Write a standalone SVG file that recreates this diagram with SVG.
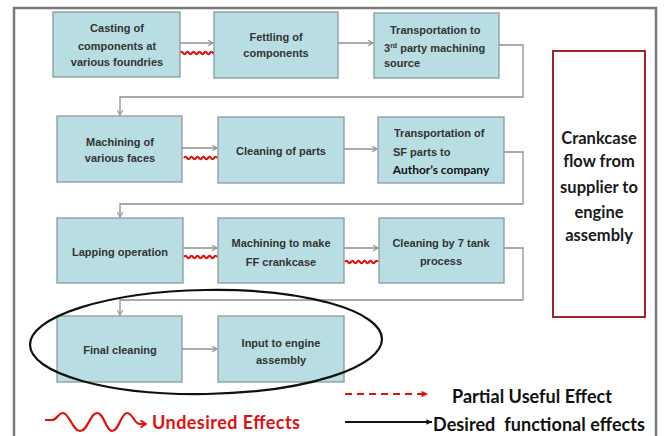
<svg xmlns="http://www.w3.org/2000/svg" width="664" height="436" viewBox="0 0 664 436">
  <defs>
    <style>
      .box { fill: #b8dde2; stroke: #8a9c9f; stroke-width: 1.3; }
      .lbl { font-family: "Liberation Sans", Arial, sans-serif; font-size: 11px; font-weight: bold; fill: #333; text-anchor: middle; }
      .lbl-l { font-family: "Liberation Sans", Arial, sans-serif; font-size: 11px; font-weight: bold; fill: #333; }
      .conn { fill: none; stroke: #8e8e8e; stroke-width: 1.3; }
      .wave { fill: none; stroke: #e01010; stroke-width: 2.2; }
      .side { font-family: Lato, "Open Sans", sans-serif; font-size: 16.5px; font-weight: bold; fill: #1a1a1a; text-anchor: middle; }
      .legend { font-family: Lato, "Open Sans", sans-serif; font-size: 18px; font-weight: bold; }
    </style>
    <marker id="arr" viewBox="0 0 10 10" refX="9" refY="5" markerWidth="7" markerHeight="7" orient="auto" markerUnits="userSpaceOnUse">
      <path d="M2,1 L9,5 L2,9" fill="none" stroke="#8e8e8e" stroke-width="1.5"/>
    </marker>
    <marker id="arrRed" viewBox="0 0 10 10" refX="9" refY="5" markerWidth="8" markerHeight="8" orient="auto" markerUnits="userSpaceOnUse">
      <path d="M1,1 L9,5 L1,9 Z" fill="#e01010"/>
    </marker>
    <marker id="arrRedOpen" viewBox="0 0 10 10" refX="9" refY="5" markerWidth="9" markerHeight="9" orient="auto" markerUnits="userSpaceOnUse">
      <path d="M3,1 L9,5 L3,9" fill="none" stroke="#e01010" stroke-width="2"/>
    </marker>
    <marker id="arrBlack" viewBox="0 0 10 10" refX="9" refY="5" markerWidth="7" markerHeight="7" orient="auto" markerUnits="userSpaceOnUse">
      <path d="M1,1 L9,5 L1,9 Z" fill="#111"/>
    </marker>
  </defs>

  <rect width="664" height="436" fill="#ffffff"/>
  <!-- outer frame -->
  <rect x="14" y="8" width="642" height="440" fill="none" stroke="#7a7a7a" stroke-width="2.5"/>

  <!-- process flow connectors -->
  <g id="connectors">
    <line class="conn" x1="180" y1="43" x2="213" y2="43" marker-end="url(#arr)"/>
    <line class="conn" x1="338" y1="43" x2="373" y2="43" marker-end="url(#arr)"/>
    <path class="conn" d="M499,45 H523 V97 H120 V115" marker-end="url(#arr)"/>
    <line class="conn" x1="182" y1="148" x2="217" y2="148" marker-end="url(#arr)"/>
    <line class="conn" x1="344" y1="149" x2="377" y2="149" marker-end="url(#arr)"/>
    <path class="conn" d="M504,152 H523 V204 H120 V217" marker-end="url(#arr)"/>
    <line class="conn" x1="183" y1="248" x2="217" y2="248" marker-end="url(#arr)"/>
    <line class="conn" x1="344" y1="248" x2="378" y2="248" marker-end="url(#arr)"/>
    <path class="conn" d="M504,248 H523 V300 H120 V315" marker-end="url(#arr)"/>
    <line class="conn" x1="182" y1="349" x2="217" y2="349" marker-end="url(#arr)"/>

    <!-- undesired effects between steps -->
    <path class="wave" d="M180,53 q1.5,-2.5 3,0 t3,0 t3,0 t3,0 t3,0 t3,0 t3,0 t3,0 t3,0 t3,0 t3,0 t3,0"/>
    <path class="wave" d="M184,158 q1.5,-2.5 3,0 t3,0 t3,0 t3,0 t3,0 t3,0 t3,0 t3,0 t3,0 t3,0 t3,0"/>
    <path class="wave" d="M184,257 q1.5,-2.5 3,0 t3,0 t3,0 t3,0 t3,0 t3,0 t3,0 t3,0 t3,0 t3,0 t3,0"/>
    <path class="wave" d="M345,262 q1.5,-2.5 3,0 t3,0 t3,0 t3,0 t3,0 t3,0 t3,0 t3,0 t3,0 t3,0 t3,0"/>
  </g>

  <g id="n1">
    <rect class="box" x="53" y="12" width="127" height="65"/>
    <text class="lbl" x="117" y="32">Casting of</text>
    <text class="lbl" x="117" y="50">components at</text>
    <text class="lbl" x="117" y="66">various foundries</text>
  </g>
  <g id="n2">
    <rect class="box" x="214" y="12" width="124" height="66"/>
    <text class="lbl" x="276" y="41">Fettling of</text>
    <text class="lbl" x="276" y="57">components</text>
  </g>
  <g id="n3">
    <rect class="box" x="374" y="13" width="125" height="65"/>
    <text class="lbl-l" x="390" y="34">Transportation to</text>
    <text class="lbl-l" x="384" y="52">3<tspan font-size="7" dy="-4">rd</tspan><tspan dy="4"> party machining</tspan></text>
    <text class="lbl-l" x="384" y="67">source</text>
  </g>

  <g id="n4">
    <rect class="box" x="57" y="116" width="125" height="66"/>
    <text class="lbl" x="120" y="146">Machining of</text>
    <text class="lbl" x="120" y="162">various faces</text>
  </g>
  <g id="n5">
    <rect class="box" x="218" y="117" width="126" height="66"/>
    <text class="lbl" x="281" y="155">Cleaning of parts</text>
  </g>
  <g id="n6">
    <rect class="box" x="378" y="117" width="126" height="66"/>
    <text class="lbl-l" x="394" y="137">Transportation of</text>
    <text class="lbl-l" x="393" y="156">SF parts to</text>
    <rect x="386" y="160" width="110" height="18" fill="#b8dde2"/>
    <text x="441" y="174" font-family="Lato, 'Open Sans', sans-serif" font-size="12" font-weight="bold" fill="#111" text-anchor="middle">Author’s company</text>
  </g>

  <g id="n7">
    <rect class="box" x="57" y="218" width="126" height="65"/>
    <text class="lbl" x="120" y="256">Lapping operation</text>
  </g>
  <g id="n8">
    <rect class="box" x="218" y="218" width="126" height="65"/>
    <text class="lbl" x="281" y="247">Machining to make</text>
    <text class="lbl" x="281" y="266">FF crankcase</text>
  </g>
  <g id="n9">
    <rect class="box" x="379" y="218" width="125" height="65"/>
    <text class="lbl" x="441" y="247">Cleaning by 7 tank</text>
    <text class="lbl" x="441" y="265">process</text>
  </g>

  <g id="n10">
    <rect class="box" x="57" y="316" width="125" height="66"/>
    <text class="lbl" x="120" y="354">Final cleaning</text>
  </g>
  <g id="n11">
    <rect class="box" x="218" y="316" width="126" height="66"/>
    <text class="lbl" x="281" y="347">Input to engine</text>
    <text class="lbl" x="281" y="364">assembly</text>
  </g>

  <!-- highlight around the final two steps -->
  <g id="highlight">
    <ellipse cx="206" cy="342" rx="176" ry="52" fill="none" stroke="#111" stroke-width="2.2" transform="rotate(-1 206 342)"/>
  </g>

  <g id="title-box">
    <rect x="553" y="51" width="92" height="266" fill="none" stroke="#a3222c" stroke-width="2"/>
    <text class="side" x="599" y="144">Crankcase</text>
    <text class="side" x="599" y="167">flow from</text>
    <text class="side" x="599" y="193">supplier to</text>
    <text class="side" x="599" y="218">engine</text>
    <text class="side" x="599" y="241">assembly</text>
  </g>

  <g id="legend">
    <path d="M45,420 L52,420 C57,420 58,413 63,413 C69,413 73,431 80,431 C88,431 90,413 97,413 C104,413 106,431 112,431 C119,431 121,413 127,413 C133,413 134,424 140,424 L146,424" fill="none" stroke="#e01010" stroke-width="2.2" marker-end="url(#arrRedOpen)"/>
    <text class="legend" x="152" y="429" fill="#e01010" textLength="148">Undesired Effects</text>

    <line x1="345" y1="394" x2="428" y2="394" stroke="#e01010" stroke-width="2" stroke-dasharray="7,5" marker-end="url(#arrRed)"/>
    <text class="legend" x="452" y="403" fill="#111" textLength="160">Partial Useful Effect</text>

    <line x1="345" y1="422" x2="432" y2="422" stroke="#111" stroke-width="2" marker-end="url(#arrBlack)"/>
    <text class="legend" x="433" y="431" fill="#111" xml:space="preserve" textLength="212">Desired  functional effects</text>
  </g>
</svg>
